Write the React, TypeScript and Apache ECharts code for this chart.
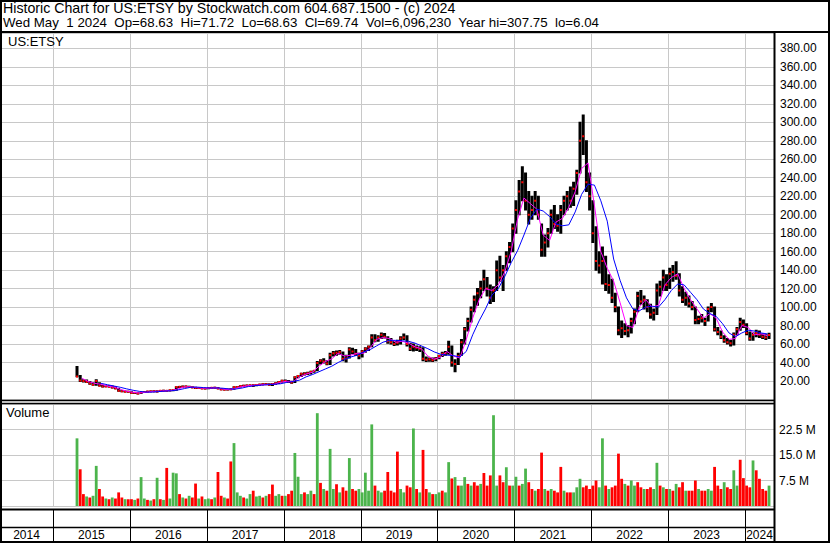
import React, { useEffect, useRef } from "react";
import * as echarts from "echarts";

// ---------- data ----------
// Half-monthly bars [high, low, close]; first bar = second half of April 2015
const FIRST_YEAR = 2015;
const FIRST_HALF_MONTH = 7; // index of the half-month in 2015 (0 = Jan 1-15)

const bars2015 = [
  [35.7, 24.5, 25.0], [26, 19.5, 20.5], [21.5, 19, 20], [21, 18.5, 19], [19.5, 16.5, 17.2],
  [18, 15.5, 16], [21.5, 15.5, 20], [18, 14.5, 15], [15.5, 13.5, 14], [15, 13.8, 14.2],
  [14.8, 13.5, 13.8], [14.5, 12.5, 13], [13.5, 11.5, 12], [12, 9, 9.5], [9.8, 8.5, 9],
  [9.3, 8, 8.5], [8.8, 7.8, 8.3],
];
const bars2016 = [
  [8.3, 6.8, 7.0], [7.6, 6.5, 7.4], [7.4, 6.04, 6.5], [8.0, 6.5, 7.8],
  [8.5, 7.5, 8.2], [9.0, 8.0, 8.7], [9.2, 8.4, 8.8], [9.4, 8.4, 9.0],
  [9.5, 8.2, 8.7], [9.8, 8.6, 9.5], [10, 9.2, 9.6], [9.8, 8.8, 9.4],
  [10.2, 9.3, 10], [10.5, 9.6, 10.2], [13.8, 10, 13.4], [14.2, 13, 13.8],
  [14.5, 13.2, 13.7], [14.5, 13.4, 14.2], [14.3, 13.2, 13.5], [13.8, 12.6, 13],
  [13.2, 11.8, 12.4], [12.8, 12, 12.5], [12.6, 11.5, 11.8], [12, 11.3, 11.8],
];
const bars2017 = [
  [12.8, 11.6, 12.5], [13, 12.2, 12.7], [13.2, 12.3, 12.8], [13, 11.5, 11.8],
  [12, 10.6, 10.8], [11, 10.2, 10.6], [11, 10.2, 10.7], [11.5, 10.6, 11.2],
  [13.8, 11, 13.3], [14, 13, 13.6], [15, 13.4, 14.6], [15.3, 14.4, 15],
  [15.6, 14.7, 15.2], [15.7, 14.8, 15.3], [16, 14.2, 15.5], [16, 15, 15.6],
  [16.6, 15.3, 16.2], [17, 16, 16.5], [17.3, 16.2, 16.6], [17, 15.5, 16],
  [17.2, 15.2, 16.8], [18, 16.6, 17.6], [19.5, 17.4, 19], [20.7, 18.8, 20.4],
];
const bars2018 = [
  [21, 19.3, 20], [20.5, 18.5, 19], [19.8, 17.6, 18.5], [24.5, 18.5, 24],
  [26, 23.5, 25.5], [28.5, 25, 28], [29, 26.5, 28], [29.5, 27, 28.5],
  [30.5, 27.5, 30], [31.5, 29.5, 31], [41, 31, 39.5], [43, 38.5, 42],
  [44, 39.5, 41], [42, 37.5, 39], [50, 38, 48], [52, 47, 50],
  [52.5, 48, 50.5], [53, 49, 51.5], [51.5, 42, 44], [48, 40.5, 44.5],
  [56, 45, 54], [55.5, 49.5, 52], [54, 47.5, 49.5], [50, 44, 47.5],
];
const bars2019 = [
  [53, 46, 52], [56, 51, 55], [58, 53, 57], [70, 57, 67],
  [70, 62.5, 64], [69, 63, 67], [72, 66, 70], [71.5, 66.5, 68],
  [68, 61, 63], [66, 60, 62], [63, 58.5, 60], [64, 59, 61.5],
  [68, 60, 66], [71, 65, 67], [69, 58, 60], [61, 53, 55],
  [60, 52.5, 57], [58, 53, 56], [57, 52, 55], [56, 42, 44],
  [46, 41, 43], [45, 41.5, 43.5], [45, 41, 42.5], [45.5, 42, 44.3],
];
const bars2020 = [
  [48, 44, 47], [51, 46.5, 49.5], [52, 48, 50], [63, 49, 57],
  [58, 36, 40], [43, 29.9, 38.5], [50, 38, 47], [65, 48, 62],
  [78, 60, 76], [88, 74, 85], [100, 84, 97], [112, 95, 108],
  [120, 102, 115], [128, 110, 120], [140, 118, 130], [132, 112, 120],
  [124, 104, 110], [122, 106, 118], [150, 118, 140], [155, 128, 132],
  [145, 118, 140], [160, 140, 155], [170, 148, 165], [190, 160, 185],
];
const bars2021 = [
  [215, 180, 205], [237, 200, 225], [252, 215, 235], [245, 205, 215],
  [225, 190, 200], [220, 195, 205], [225, 200, 215], [220, 195, 200],
  [190, 155, 162], [178, 155, 170], [185, 165, 180], [205, 180, 200],
  [210, 185, 190], [200, 182, 188], [210, 180, 205], [220, 200, 215],
  [225, 205, 220], [230, 208, 215], [235, 210, 228], [248, 222, 245],
  [300, 245, 280], [307.75, 265, 285], [280, 225, 235], [245, 205, 220],
];
const bars2022 = [
  [215, 170, 180], [187, 140, 150], [160, 137, 145], [165, 125, 150],
  [155, 118, 125], [135, 115, 124], [130, 105, 110], [115, 95, 100],
  [100, 70, 75], [85, 67, 77], [82, 70, 74], [80, 68, 75],
  [88, 72, 85], [98, 82, 95], [116, 95, 112], [118, 103, 106],
  [112, 98, 108], [108, 95, 100], [103, 88, 92], [98, 86, 94],
  [125, 92, 118], [128, 112, 122], [140, 118, 132], [135, 118, 124],
];
const bars2023 = [
  [142, 120, 136], [145, 128, 138], [149, 130, 134], [136, 112, 118],
  [122, 105, 108], [116, 102, 110], [112, 100, 104], [106, 97, 100],
  [100, 82, 86], [90, 82, 87], [92, 84, 88], [88, 80, 85],
  [100, 85, 98], [104, 95, 100], [100, 74, 76], [78, 70, 73],
  [74, 66, 68], [69, 62, 64], [66, 60, 62], [64, 58, 61],
  [72, 59, 70], [78, 70, 76], [88, 75, 84], [86, 78, 81],
];
const bars2024 = [
  [82, 70, 72], [73, 64, 66], [72, 64, 70], [75, 68, 72],
  [74, 67, 70], [71, 66, 68], [70, 65, 67], [71.72, 66, 69.74],
];

// Half-monthly volume (millions) and bar colour (g = up, r = down)
const vol2015 = [19.9, 10.8, 3.5, 2.8, 2.5, 3, 11.8, 5, 2.8, 2.2, 2, 2.5, 2.2, 4, 2.5, 2, 2];
const col2015 = "grrgrggrrgrgrrrgr";
const vol2016 = [2, 1.8, 2.2, 8.5, 2.2, 1.8, 1.6, 2, 8.3, 2, 1.8, 11.2, 2.2, 9.8, 9.6, 3.5, 2.5, 2.2, 3, 2.5, 6.6, 2.2, 2.8, 2];
const col2016 = "rgrggrgrgrgrgggrgrgrrgrg";
const vol2017 = [2.2, 2, 2.5, 10, 3, 2.5, 2.2, 13.1, 18.5, 4, 3, 2.5, 2.2, 3.5, 4.5, 2.8, 3, 2.5, 3, 3.5, 6.3, 3, 3.5, 3];
const col2017 = "grgrrgrrgggrggrggrgrrggr";
const vol2018 = [3, 3.5, 4.5, 15.6, 8.6, 3.5, 4, 3.5, 4.5, 3.5, 27.3, 6.8, 5, 4.5, 16.8, 5, 6.4, 4, 5.5, 4.5, 14.1, 5, 4.5, 5];
const col2018 = "grrgggrggrgrgrggrgrrgrrg";
const vol2019 = [4, 9.8, 4.5, 24, 6, 4.5, 4, 4.5, 10, 4.5, 4, 16, 5, 4, 6, 5.5, 22.8, 5, 4, 16.5, 5, 4, 3.5, 3.5];
const col2019 = "ggggrggrrrrrggrrgrgrrgrg";
const vol2020 = [4, 4.5, 4, 12.9, 8.1, 8.5, 6, 6, 8.5, 6.5, 6, 7, 6, 6.5, 9.7, 6, 9, 26.7, 6, 9, 7, 11.4, 6, 6];
const col2020 = "grggrgrggrgrrgrrrggrrgrg";
const vol2021 = [8.6, 6, 6.5, 11, 7, 5, 4.5, 5, 15.7, 5, 4.5, 5, 4.5, 4, 11.5, 4.5, 4, 4, 4, 5.5, 8, 5.5, 6, 5];
const col2021 = "grggrrgrrgrgrrrgrrgggrrr";
const vol2022 = [6, 7.5, 5.5, 19.9, 6, 5, 5.5, 6, 15.4, 8, 6.5, 6, 7.5, 6, 7, 5.5, 5, 5, 5.5, 5, 12.7, 6, 5.5, 5];
const col2022 = "rrggrgrrrrgrggrrgrrggrgr";
const vol2023 = [5, 4.5, 6.5, 5.5, 7, 4.5, 4.5, 4.5, 7.5, 5, 4.5, 4.5, 5, 4.5, 11.5, 6, 5, 7, 5.5, 5, 10.5, 6, 13.6, 8.2];
const col2023 = "grgrrgrrrgrrggrrrgrrggrr";
const vol2024 = [6, 5.5, 13.4, 10.5, 8, 5, 4.5, 6];
const col2024 = "rrgrrrrg";

// Monthly moving averages (mid-month values)
const MA_SHORT_START_MONTH = 4; // May 2015
const maShort = [
  23, 19.5, 17.5, 16.5, 14.5, 13.5, 11, 9,
  7.8, 7, 7.8, 8.7, 9, 9.4, 9.7, 11.5, 13.6, 13.6, 12.8, 12.2,
  12.3, 12.7, 11.2, 10.8, 12, 14, 15, 15.4, 15.9, 16.4, 16.5, 18.5,
  19.8, 19.5, 24.5, 27.5, 29.5, 36, 41, 44, 50, 47, 48, 50,
  50, 56, 65, 67, 66, 62, 63, 61, 57, 55, 47, 43.5,
  46, 52, 47, 45, 65, 88, 108, 120, 118, 124, 138, 160,
  195, 218, 212, 206, 178, 172, 192, 196, 208, 225, 250, 256,
  210, 160, 142, 128, 105, 80, 78, 100, 108, 100, 102, 124,
  132, 136, 120, 108, 98, 88, 93, 88, 73, 65, 66, 80,
  78, 70, 71, 69,
];
const MA_LONG_START_MONTH = 7; // Aug 2015
const maLong = [
  17.5, 16, 14.6, 13.2, 11.5,
  10, 8.8, 8, 8, 8.6, 9.1, 9.5, 10.3, 11.8, 13.2, 13.4, 12.9,
  12.4, 12.5, 12.2, 11.4, 11.3, 12.4, 14, 15, 15.5, 16, 16.5, 17,
  18.5, 19.5, 21, 24.5, 27, 30, 33, 36, 40, 43.5, 46, 48,
  51.5, 54, 58, 62, 64, 64, 63.5, 63, 61, 58, 55, 51.5,
  49, 48, 47.5, 46, 52, 70, 85, 98, 113, 120, 133, 148,
  161, 178, 196, 206, 204, 198, 190, 188, 189, 203, 222, 233,
  232, 215, 193, 152, 129, 110, 98, 96, 100, 101, 100, 108,
  118, 125, 124, 116, 108, 98, 93, 90, 82, 72, 68, 72,
  75, 74, 72, 71,
];

const yearLabels = [2014, 2015, 2016, 2017, 2018, 2019, 2020, 2021, 2022, 2023, 2024];
const yearBoundaries = [2015, 2016, 2017, 2018, 2019, 2020, 2021, 2022, 2023, 2024];
const priceTicks = { min: 0, max: 396.6, interval: 20 };
const volumeTicks = { min: 0, max: 30, interval: 7.5 };
const X_MIN = 2014.311; // left edge of the plot (late April 2014)
const X_MAX = 2024.377; // right edge of the plot (mid May 2024)

const HEADER_1 = "Historic Chart for US:ETSY by Stockwatch.com 604.687.1500 - (c) 2024";
const HEADER_2 =
  "Wed May\u00a0 1 2024\u00a0 Op=68.63\u00a0 Hi=71.72\u00a0 Lo=68.63\u00a0 Cl=69.74\u00a0 Vol=6,096,230\u00a0 Year hi=307.75\u00a0 lo=6.04";

// ---------- styles ----------
const FONT = '"Liberation Sans", Arial, sans-serif';
const GRID_COLOR = "#c8c8c8";
const GREEN = "#4cb44c";
const RED = "#ff0000";

function halfMonthTime(i: number) {
  return FIRST_YEAR + (FIRST_HALF_MONTH + i + 0.5) / 24;
}
function monthTime(startMonth: number, i: number) {
  return FIRST_YEAR + (startMonth + i + 0.5) / 12;
}

export default function App() {
  const ref = useRef<HTMLDivElement>(null);

  useEffect(() => {
    if (!ref.current) return;
    const chart = echarts.init(ref.current, undefined, { renderer: "svg" });

    const allBars = [
      ...bars2015, ...bars2016, ...bars2017, ...bars2018, ...bars2019,
      ...bars2020, ...bars2021, ...bars2022, ...bars2023, ...bars2024,
    ];
    const priceData = allBars.map((b, i) => [halfMonthTime(i), b[1], b[0], b[2]]);

    const allVol = [
      ...vol2015, ...vol2016, ...vol2017, ...vol2018, ...vol2019,
      ...vol2020, ...vol2021, ...vol2022, ...vol2023, ...vol2024,
    ];
    const allCol = col2015 + col2016 + col2017 + col2018 + col2019 + col2020 + col2021 + col2022 + col2023 + col2024;
    const volData = allVol.map((v, i) => [halfMonthTime(i), v, allCol[i] === "g" ? 1 : 0]);

    const shortData = maShort.map((v, i) => [monthTime(MA_SHORT_START_MONTH, i), v]);
    const longData = maLong.map((v, i) => [monthTime(MA_LONG_START_MONTH, i), v]);

    const xAxisBase = (gridIndex: number) => ({
      type: "value",
      gridIndex,
      min: X_MIN,
      max: X_MAX,
      axisLine: { show: false },
      axisTick: { show: false },
      axisLabel: { show: false },
      splitLine: { show: false },
    });

    // vertical year grid lines, placed through the x scale
    const yearGrid = (idx: number, color: string) => ({
      type: "custom",
      name: "yearGrid" + idx,
      xAxisIndex: idx,
      yAxisIndex: idx,
      z: 1,
      silent: true,
      clip: false,
      encode: { x: 0 },
      data: yearBoundaries.map((y) => [y, 0]),
      renderItem: (params: any, api: any) => {
        const cs = params.coordSys;
        const x = Math.round(api.coord([api.value(0), 0])[0]) + 0.5;
        return {
          type: "line",
          shape: { x1: x, y1: cs.y, x2: x, y2: cs.y + cs.height },
          style: { stroke: color, lineWidth: 1 },
        };
      },
    });

    const line = (x1: number, y1: number, x2: number, y2: number, w: number) => ({
      type: "line",
      z: 100,
      silent: true,
      shape: { x1, y1, x2, y2 },
      style: { stroke: "#000", lineWidth: w },
    });

    const option: any = {
      animation: false,
      backgroundColor: "#ffffff",
      textStyle: { fontFamily: FONT },
      grid: [
        { left: 0, right: 56, top: 33, bottom: 143.5 },
        { left: 0, right: 56, top: 404, bottom: 37 },
        { left: 0, right: 56, top: 510, bottom: 2 },
      ],
      xAxis: [xAxisBase(0), xAxisBase(1), xAxisBase(2)],
      yAxis: [
        {
          type: "value",
          gridIndex: 0,
          position: "right",
          ...priceTicks,
          axisLine: { show: false },
          axisTick: { show: false },
          splitLine: { show: true, lineStyle: { color: GRID_COLOR } },
          axisLabel: {
            color: "#000",
            fontSize: 12,
            fontFamily: FONT,
            margin: 6,
            showMinLabel: false,
            showMaxLabel: false,
            formatter: (v: number) => v.toFixed(2),
          },
        },
        {
          type: "value",
          gridIndex: 1,
          position: "right",
          ...volumeTicks,
          axisLine: { show: false },
          axisTick: { show: false },
          splitLine: { show: true, lineStyle: { color: GRID_COLOR } },
          axisLabel: {
            color: "#000",
            fontSize: 12,
            fontFamily: FONT,
            margin: 5,
            showMinLabel: false,
            showMaxLabel: false,
            formatter: (v: number) => v.toFixed(1) + " M",
          },
        },
        { type: "value", gridIndex: 2, min: 0, max: 1, show: false },
      ],
      series: [
        yearGrid(0, GRID_COLOR),
        yearGrid(1, GRID_COLOR),
        yearGrid(2, "#000"),
        {
          type: "custom",
          name: "Price",
          xAxisIndex: 0,
          yAxisIndex: 0,
          z: 2,
          clip: true,
          encode: { x: 0, y: [1, 2] },
          data: priceData,
          renderItem: (params: any, api: any) => {
            const t = api.value(0);
            const lo = api.coord([t, api.value(1)]);
            const hi = api.coord([t, api.value(2)]);
            const cl = api.coord([t, api.value(3)]);
            return {
              type: "group",
              children: [
                {
                  type: "line",
                  shape: { x1: lo[0], y1: lo[1] + 0.5, x2: hi[0], y2: hi[1] - 0.5 },
                  style: { stroke: "#000", lineWidth: 3 },
                },
                {
                  type: "rect",
                  shape: { x: cl[0] - 1, y: cl[1] - 1, width: 2, height: 2 },
                  style: { fill: RED },
                },
              ],
            };
          },
        },
        {
          type: "line",
          name: "MA short",
          xAxisIndex: 0,
          yAxisIndex: 0,
          data: shortData,
          showSymbol: false,
          symbol: "none",
          lineStyle: { color: "#ff00ff", width: 1 },
          z: 5,
        },
        {
          type: "line",
          name: "MA long",
          xAxisIndex: 0,
          yAxisIndex: 0,
          data: longData,
          showSymbol: false,
          symbol: "none",
          lineStyle: { color: "#0000ff", width: 1 },
          z: 6,
        },
        {
          type: "custom",
          name: "Volume",
          xAxisIndex: 1,
          yAxisIndex: 1,
          z: 2,
          clip: true,
          encode: { x: 0, y: 1 },
          data: volData,
          renderItem: (params: any, api: any) => {
            const t = api.value(0);
            const top = api.coord([t, api.value(1)]);
            const base = api.coord([t, 0]);
            return {
              type: "rect",
              shape: { x: top[0] - 1.4, y: top[1], width: 2.8, height: base[1] - top[1] + 3 },
              style: { fill: api.value(2) ? GREEN : RED },
            };
          },
        },
        {
          type: "custom",
          name: "Years",
          xAxisIndex: 2,
          yAxisIndex: 2,
          z: 3,
          clip: false,
          encode: { x: 0 },
          data: yearLabels.map((y) => [y, 0]),
          renderItem: (params: any, api: any) => {
            const yr = api.value(0);
            const cs = params.coordSys;
            const left = Math.max(api.coord([yr, 0])[0], cs.x);
            const right = Math.min(api.coord([yr + 1, 0])[0], cs.x + cs.width);
            return {
              type: "text",
              style: {
                text: String(yr),
                x: (left + right) / 2,
                y: cs.y + cs.height - 6.5,
                align: "center",
                verticalAlign: "middle",
                textAlign: "center",
                textVerticalAlign: "middle",
                fill: "#000",
                font: `12px ${FONT}`,
              },
            };
          },
        },
      ],
      graphic: [
        {
          type: "text",
          z: 100,
          left: 3,
          top: 1,
          style: { text: HEADER_1, fill: "#000", font: `14.2px ${FONT}` },
        },
        {
          type: "text",
          z: 100,
          left: 3,
          top: 16,
          style: { text: HEADER_2, fill: "#000", font: `13.3px ${FONT}` },
        },
        {
          type: "text",
          z: 100,
          left: 8,
          top: 35,
          style: { text: "US:ETSY", fill: "#000", font: `13px ${FONT}` },
        },
        {
          type: "text",
          z: 100,
          left: 6,
          top: 406,
          style: { text: "Volume", fill: "#000", font: `13px ${FONT}` },
        },
        line(0, 32, 830, 32, 2),
        line(774.5, 32, 774.5, 543, 2),
        line(0, 400.5, 774, 400.5, 1.5),
        line(0, 403.5, 774, 403.5, 1.5),
        line(0, 509.5, 774, 509.5, 2),
        line(0, 527.5, 774, 527.5, 1.5),
        {
          type: "rect",
          z: 100,
          silent: true,
          shape: { x: 1, y: 1, width: 828, height: 541 },
          style: { fill: "none", stroke: "#000", lineWidth: 2 },
        },
      ],
    };

    chart.setOption(option);
    return () => chart.dispose();
  }, []);

  return (
    <div
      ref={ref}
      style={{ position: "fixed", left: 0, top: 0, width: 830, height: 543 }}
    />
  );
}
